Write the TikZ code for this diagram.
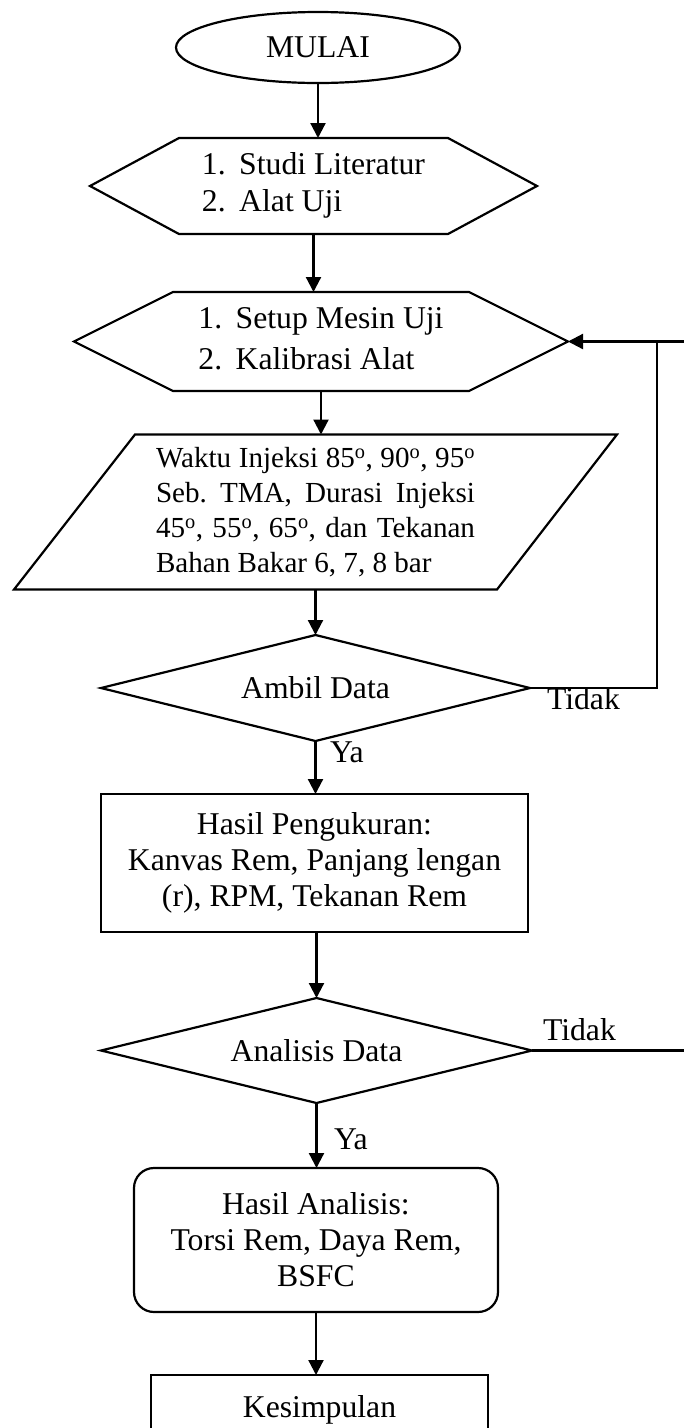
\documentclass[tikz,border=0pt]{standalone}
\usepackage{fontspec}
\setmainfont{Liberation Serif}
\usetikzlibrary{shapes.geometric,arrows.meta}
\newcommand\mainsz{\fontsize{31.7}{36}\selectfont}
\newcommand\parasz{\fontsize{29.1}{35}\selectfont}
\newcommand\dg{\textsuperscript{o}}
\frenchspacing
\begin{document}
\begin{tikzpicture}[x=1pt,y=-1pt,
  every node/.style={inner sep=0pt, outer sep=0pt, font=\mainsz},
  ln/.style={line width=2.2pt},
  arr/.style={line width=2.2pt, -{Triangle[length=15pt,width=15pt]}},
  shapebox/.style={rectangle, draw=none, align=center},
  procbox/.style={rectangle, draw, line width=2.2pt, align=center},
  lbl/.style={anchor=west}]
\useasboundingbox (0,0) rectangle (684,1428);

% nodes
\node[ellipse, draw, line width=2.2pt, minimum width=284pt, minimum height=71pt] (start) at (318,47.5) {MULAI};

\node[shapebox, minimum width=447pt, minimum height=96pt] (h1) at (313.5,186)
  {\begin{tabular}{@{}l@{\hspace{13.5pt}}l@{}}1. & Studi Literatur\\[1pt] 2. & Alat Uji\end{tabular}};

\node[shapebox, minimum width=494pt, minimum height=99pt] (h2) at (321,341.5)
  {\begin{tabular}{@{}l@{\hspace{13.5pt}}l@{}}1. & Setup Mesin Uji\\[5pt] 2. & Kalibrasi Alat\end{tabular}};

\node[shapebox, minimum width=603pt, minimum height=155pt, align=left, font=\parasz] (para) at (315.5,512)
  {\makebox[319pt][s]{Waktu Injeksi 85\dg, 90\dg, 95\dg}\\
   \makebox[319pt][s]{Seb. TMA, Durasi Injeksi}\\
   \makebox[319pt][s]{45\dg, 55\dg, 65\dg, dan Tekanan}\\
   \makebox[319pt][l]{Bahan Bakar 6, 7, 8 bar}};

\node[shapebox, minimum width=429pt, minimum height=106pt] (d1) at (315.5,688) {Ambil Data};

\node[procbox, minimum width=427pt, minimum height=138pt] (b1) at (314.5,863)
  {Hasil Pengukuran:\\ Kanvas Rem, Panjang lengan\\ (r), RPM, Tekanan Rem};

\node[shapebox, minimum width=431pt, minimum height=105pt] (d2) at (316.5,1050.5) {Analisis Data};

\node[procbox, rounded corners=20pt, minimum width=364pt, minimum height=144pt] (r1) at (316,1240)
  {Hasil Analisis:\\ Torsi Rem, Daya Rem,\\ BSFC};

\node[procbox, minimum width=337pt, minimum height=70pt] (k) at (319.5,1410) {Kesimpulan};

% custom outlines
\draw[ln] (h1.west) -- ([xshift=89pt]h1.north west) -- ([xshift=-89pt]h1.north east) -- (h1.east)
  -- ([xshift=-89pt]h1.south east) -- ([xshift=89pt]h1.south west) -- cycle;
\draw[ln] (h2.west) -- ([xshift=99pt]h2.north west) -- ([xshift=-99pt]h2.north east) -- (h2.east)
  -- ([xshift=-99pt]h2.south east) -- ([xshift=99pt]h2.south west) -- cycle;
\draw[ln] ([xshift=121pt]para.north west) -- (para.north east) -- ([xshift=-120pt]para.south east)
  -- (para.south west) -- cycle;
\draw[ln] (d1.north) -- (d1.east) -- (d1.south) -- (d1.west) -- cycle;
\draw[ln] (d2.north) -- (d2.east) -- (d2.south) -- (d2.west) -- cycle;

% labels
\node[lbl] (t1) at (547,698.5) {Tidak};
\node[lbl] (t2) at (543,1029.5) {Tidak};
\node[lbl] (y1) at (330,752.5) {Ya};
\node[lbl] (y2) at (334,1139.5) {Ya};

% coordinates for loose ends
\coordinate (loopT) at (657,341.5);
\coordinate (edgeA) at (690,341.5);
\coordinate (edgeB) at (690,1050.5);

% connectors
\draw[arr] (start.south) -- (start.south |- h1.north);
\draw[arr] (h1.south) -- (h1.south |- h2.north);
\draw[arr] (h2.south) -- (h2.south |- para.north);
\draw[arr] (para.south -| d1.north) -- (d1.north);
\draw[arr] (d1.south) -- (d1.south |- b1.north);
\draw[arr] (b1.south -| d2.north) -- (d2.north);
\draw[arr] (d2.south) -- (d2.south |- r1.north);
\draw[arr] (r1.south) -- (r1.south |- k.north);
\draw[ln] (d1.east) -| (loopT);
\draw[arr] (edgeA) -- (h2.east);
\draw[ln] (d2.east) -- (edgeB);
\end{tikzpicture}
\end{document}
